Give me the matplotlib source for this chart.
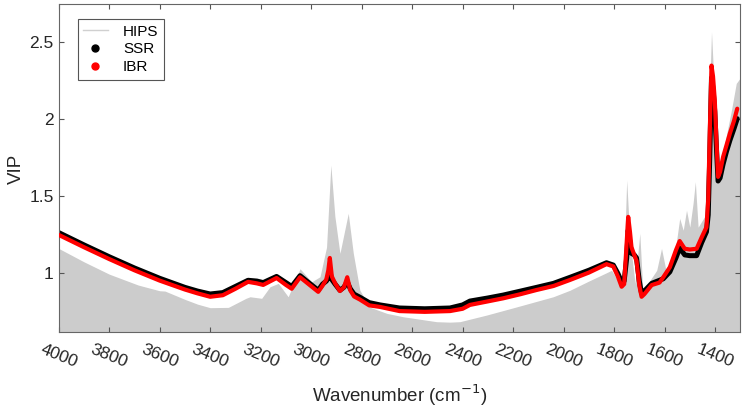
import numpy as np
import matplotlib
matplotlib.use("Agg")
import matplotlib.pyplot as plt
from matplotlib.lines import Line2D
from matplotlib.ticker import FormatStrFormatter

plt.rcParams['font.family'] = ['Liberation Sans', 'DejaVu Sans']

# wavenumber grid shared by the SSR / IBR curves
wn = [4000, 3900, 3800, 3700, 3600, 3500, 3450, 3400, 3350, 3300, 3250, 3215,
      3190, 3137, 3100, 3077, 3044, 3010, 2972, 2955, 2940, 2932, 2926, 2918,
      2905, 2886, 2870, 2857, 2845, 2830, 2807, 2770, 2727, 2650, 2550, 2450,
      2400, 2371, 2300, 2239, 2170, 2107, 2040, 1975, 1900, 1830, 1803, 1785,
      1770, 1760, 1750, 1744, 1737, 1731, 1720, 1711, 1700, 1691, 1680, 1651,
      1620, 1605, 1579, 1555, 1540, 1520, 1500, 1473, 1453, 1434, 1427, 1421,
      1414, 1408, 1401, 1394, 1388, 1380, 1368, 1355, 1341, 1325, 1312]

ssr = [1.265, 1.185, 1.108, 1.035, 0.968, 0.909, 0.885, 0.866, 0.875, 0.915, 0.955, 0.950,
       0.940, 0.980, 0.940, 0.915, 0.985, 0.940, 0.890, 0.930, 0.950, 0.970, 1.010, 0.960,
       0.930, 0.890, 0.910, 0.945, 0.900, 0.865, 0.845, 0.810, 0.795, 0.775, 0.770, 0.775,
       0.795, 0.820, 0.840, 0.859, 0.885, 0.909, 0.935, 0.974, 1.020, 1.069, 1.054, 1.000,
       0.945, 0.950, 1.100, 1.280, 1.200, 1.130, 1.120, 1.100, 0.950, 0.870, 0.885, 0.935,
       0.955, 0.965, 1.010, 1.100, 1.165, 1.120, 1.115, 1.115, 1.200, 1.270, 1.380, 1.750,
       2.270, 2.200, 2.050, 1.800, 1.600, 1.620, 1.710, 1.790, 1.865, 1.940, 2.005]

ibr = [1.250, 1.170, 1.093, 1.020, 0.953, 0.895, 0.870, 0.848, 0.858, 0.900, 0.945, 0.935,
       0.925, 0.970, 0.925, 0.900, 0.975, 0.930, 0.880, 0.920, 0.960, 1.020, 1.100, 0.980,
       0.935, 0.885, 0.910, 0.975, 0.890, 0.850, 0.830, 0.792, 0.782, 0.755, 0.750, 0.755,
       0.770, 0.795, 0.818, 0.838, 0.865, 0.892, 0.918, 0.957, 1.005, 1.060, 1.045, 0.980,
       0.913, 0.930, 1.200, 1.367, 1.270, 1.170, 1.120, 1.080, 0.920, 0.848, 0.865, 0.924,
       0.940, 0.975, 1.040, 1.150, 1.210, 1.160, 1.155, 1.160, 1.234, 1.300, 1.480, 1.910,
       2.350, 2.280, 2.125, 1.850, 1.627, 1.660, 1.757, 1.830, 1.910, 1.990, 2.070]

hips_wn = [4000, 3900, 3800, 3685, 3600, 3579, 3500, 3450, 3400, 3328, 3258, 3242,
           3196, 3163, 3130, 3091, 3044, 2998, 2965, 2939, 2922, 2906, 2886, 2853,
           2833, 2807, 2767, 2700, 2635, 2503, 2450, 2411, 2305, 2173, 2041, 1975,
           1900, 1830, 1810, 1784, 1762, 1750, 1737, 1717, 1698, 1685, 1657, 1631,
           1612, 1592, 1570, 1552, 1540, 1526, 1513, 1500, 1487, 1478, 1467, 1441,
           1427, 1414, 1401, 1388, 1362, 1335, 1316, 1300]
hips = [1.162, 1.075, 0.995, 0.924, 0.887, 0.885, 0.831, 0.800, 0.777, 0.779, 0.838, 0.848,
        0.838, 0.913, 0.935, 0.848, 1.030, 0.945, 0.978, 1.170, 1.703, 1.370, 1.130, 1.390,
        1.130, 0.890, 0.780, 0.740, 0.718, 0.686, 0.683, 0.686, 0.729, 0.788, 0.848, 0.890,
        0.950, 1.004, 1.020, 0.950, 0.980, 1.606, 1.216, 0.935, 1.260, 0.848, 0.956, 1.020,
        1.162, 1.000, 1.050, 1.216, 1.357, 1.280, 1.410, 1.300, 1.455, 1.595, 1.300, 1.370,
        1.910, 2.570, 2.125, 1.650, 1.840, 2.060, 2.234, 2.270]

xticks = [4000, 3800, 3600, 3400, 3200, 3000, 2800, 2600, 2400, 2200, 2000, 1800, 1600, 1400]
yticks = [1, 1.5, 2, 2.5]

fig = plt.figure(figsize=(7.5, 4.07), dpi=100)
ax = fig.add_axes([0.0783, 0.1835, 0.9084, 0.8055])

ax.fill_between(hips_wn, hips, 0, color='#cccccc', lw=0, zorder=1)
ax.plot(wn, ssr, color='black', lw=3.6, solid_joinstyle='round',
        solid_capstyle='round', zorder=2)
ax.plot(wn, ibr, color='#ff0000', lw=3.0, solid_joinstyle='round',
        solid_capstyle='round', zorder=3)

ax.set_xlim(4000, 1301)
ax.set_ylim(0.617, 2.747)
ax.set_xticks(xticks)
ax.set_yticks(yticks)
ax.yaxis.set_major_formatter(FormatStrFormatter('%g'))

ax.tick_params(direction='in', top=True, right=True, length=3.6, width=0.8,
               color='#555555', labelcolor='#262626', labelsize=12.5)
ax.tick_params(axis='x', pad=7)
for lab in ax.get_xticklabels():
    lab.set_rotation(-22)
    lab.set_ha('center')
for s in ax.spines.values():
    s.set_color('#666666')
    s.set_linewidth(0.8)

ax.set_xlabel('Wavenumber (cm$^{-1}$)', fontsize=13.5, color='#262626', labelpad=9)
ax.set_ylabel('VIP', fontsize=13.5, color='#262626', labelpad=3)

handles = [Line2D([], [], color='#d0d0d0', lw=1),
           Line2D([], [], ls='none', marker='o', ms=5, color='black'),
           Line2D([], [], ls='none', marker='o', ms=5, color='#ff0000')]
leg = ax.legend(handles, ['HIPS', 'SSR', 'IBR'], loc='upper left',
                bbox_to_anchor=(0.028, 0.955), borderaxespad=0, fontsize=11,
                fancybox=False, framealpha=1, edgecolor='#555555',
                handlelength=1.6, handletextpad=1.0, labelspacing=0.25,
                borderpad=0.35)
leg.get_frame().set_linewidth(0.8)

fig.savefig('out.png', dpi=100)
